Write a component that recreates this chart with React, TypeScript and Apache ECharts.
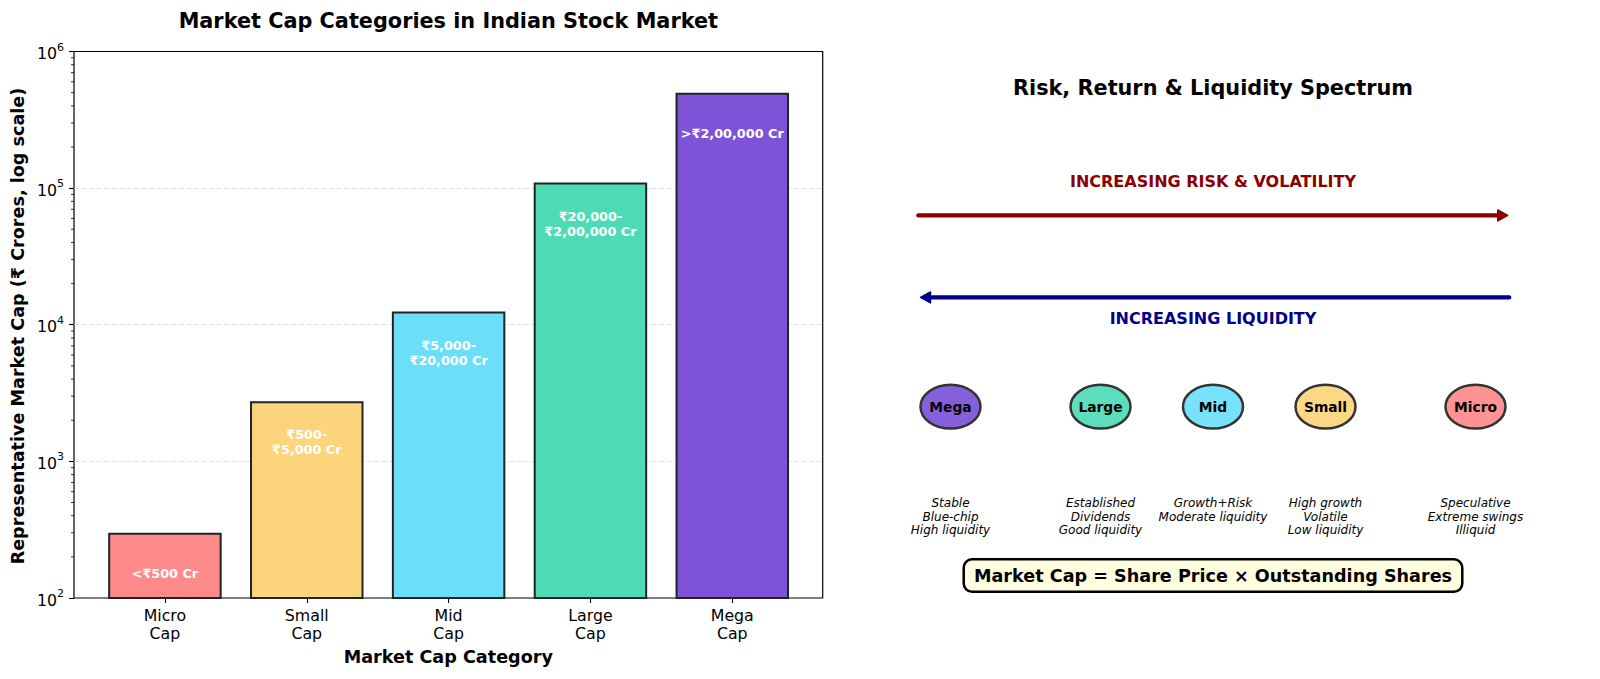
import React, { useEffect, useRef } from 'react';
import * as echarts from 'echarts';

// ---- Left panel: representative market cap per category (log scale) ----
const categories = ['Micro\nCap', 'Small\nCap', 'Mid\nCap', 'Large\nCap', 'Mega\nCap'];
const marketCaps = [300, 2750, 12500, 110000, 500000];
const rangeLabels = ['<₹500 Cr', '₹500-\n₹5,000 Cr', '₹5,000-\n₹20,000 Cr', '₹20,000-\n₹2,00,000 Cr', '>₹2,00,000 Cr'];
const barColors = ['#FF8A8A', '#FBD47C', '#6BDFF9', '#4DDBB5', '#7F53D8'];
const minorDecades = [100, 1000, 10000, 100000];
const minorMultipliers = [2, 3, 4, 5, 6, 7, 8, 9];

// ---- Right panel: risk / return / liquidity spectrum ----
const tierNames = ['Mega', 'Large', 'Mid', 'Small', 'Micro'];
const tierPositions = [1, 3, 4.5, 6, 8];
const tierColors = ['#8660DB', '#5CDDBB', '#78E2FA', '#FCD886', '#FF9393'];
const tierNotes = [
  'Stable\nBlue-chip\nHigh liquidity',
  'Established\nDividends\nGood liquidity',
  'Growth+Risk\nModerate liquidity',
  'High growth\nVolatile\nLow liquidity',
  'Speculative\nExtreme swings\nIlliquid',
];
const tierLevel = 3.5;
const notesLevel = 1.86;

const arrowLabels = ['INCREASING RISK & VOLATILITY', 'INCREASING LIQUIDITY'];
const arrowStarts = [0.57, 8.45];
const arrowEnds = [8.43, 0.6];
const arrowLevels = [7, 5.5];
const arrowLabelLevels = [7.62, 5.12];
const arrowColors = ['#8B0000', '#00008B'];

const formulaText = 'Market Cap = Share Price × Outstanding Shares';
const formulaPosition = [4.5, 0.41];

const FONT = '"DejaVu Sans", "Noto Sans", sans-serif';

function txt(text: string, x: number, y: number, font: string, fill: string, extra: any = {}) {
  return {
    type: 'text',
    x,
    y,
    style: {
      text,
      font,
      fill,
      align: 'center',
      verticalAlign: 'middle',
      textAlign: 'center',
      textVerticalAlign: 'middle',
      ...extra,
    },
  };
}

export default function App() {
  const ref = useRef<HTMLDivElement>(null);

  useEffect(() => {
    if (!ref.current) return;
    const chart = echarts.init(ref.current, undefined, { renderer: 'svg' });

    const minorData: number[][] = [];
    minorDecades.forEach((d) => minorMultipliers.forEach((m) => minorData.push([0, d * m])));

    const option: any = {
      animation: false,
      backgroundColor: '#ffffff',
      textStyle: { fontFamily: FONT },
      grid: [
        { left: 74, right: 777.3, top: 51.5, bottom: 81, show: true, borderColor: '#000', borderWidth: 1.2, backgroundColor: 'transparent' },
        { left: 94, right: 796.8, top: 51.5, bottom: 81 },
        { left: 875.5, right: 49.5, top: 51.5, bottom: 81 },
      ],
      xAxis: [
        { type: 'value', gridIndex: 0, min: 0, max: 1, show: false },
        {
          type: 'category',
          gridIndex: 1,
          data: categories,
          axisLine: { show: false },
          axisTick: { show: true, alignWithLabel: true, length: 5, lineStyle: { color: '#000', width: 1.1 } },
          axisLabel: { color: '#000', fontSize: 15.8, lineHeight: 18, margin: 8, fontFamily: FONT },
          splitLine: { show: false },
        },
        { type: 'value', gridIndex: 2, min: 0, max: 9, show: false },
      ],
      yAxis: [
        {
          type: 'log',
          logBase: 10,
          gridIndex: 0,
          min: 100,
          max: 1000000,
          axisLine: { show: false },
          axisTick: { show: true, length: 5, lineStyle: { color: '#000', width: 1.1 } },
          axisLabel: {
            color: '#000',
            margin: 10,
            fontFamily: FONT,
            formatter: (v: number) => '{b|10}{s|' + Math.round(Math.log10(v)) + '}',
            rich: {
              b: { fontSize: 15.8, lineHeight: 20, verticalAlign: 'bottom', color: '#000', fontFamily: FONT },
              s: { fontSize: 11, lineHeight: 11, verticalAlign: 'top', color: '#000', fontFamily: FONT },
            },
          },
          splitLine: {
            show: true,
            showMinLine: false,
            showMaxLine: false,
            lineStyle: { color: '#dedede', width: 0.9, type: [5, 2.5] },
          },
        },
        { type: 'log', logBase: 10, gridIndex: 1, min: 100, max: 1000000, show: false },
        { type: 'value', gridIndex: 2, min: 0, max: 10, show: false },
      ],
      series: [
        {
          // minor log ticks on the left axis
          type: 'custom',
          xAxisIndex: 0,
          yAxisIndex: 0,
          clip: false,
          silent: true,
          data: minorData,
          renderItem: (params: any, api: any) => {
            const p = api.coord([0, api.value(1)]);
            return {
              type: 'line',
              shape: { x1: p[0] - 3, y1: p[1], x2: p[0], y2: p[1] },
              style: { stroke: '#000', lineWidth: 0.8 },
            };
          },
        },
        {
          type: 'bar',
          xAxisIndex: 1,
          yAxisIndex: 1,
          barWidth: '80%',
          data: marketCaps.map((v, i) => ({
            value: v,
            itemStyle: { color: barColors[i], borderColor: '#222', borderWidth: 2 },
          })),
          z: 3,
        },
        {
          // range labels inside each bar, at half of the bar's value
          type: 'custom',
          xAxisIndex: 1,
          yAxisIndex: 1,
          clip: false,
          silent: true,
          z: 5,
          data: marketCaps.map((v, i) => [i, v * 0.5]),
          renderItem: (params: any, api: any) => {
            const p = api.coord([api.value(0), api.value(1)]);
            return txt(rangeLabels[params.dataIndex], p[0], p[1], `bold 12.8px ${FONT}`, '#ffffff', { lineHeight: 15 });
          },
        },
        {
          // spectrum arrows and their captions
          type: 'custom',
          xAxisIndex: 2,
          yAxisIndex: 2,
          clip: false,
          silent: true,
          data: arrowLabels.map((_, i) => [arrowStarts[i], arrowEnds[i], arrowLevels[i], arrowLabelLevels[i]]),
          renderItem: (params: any, api: any) => {
            const i = params.dataIndex;
            const c = arrowColors[i];
            const p1 = api.coord([api.value(0), api.value(2)]);
            const p2 = api.coord([api.value(1), api.value(2)]);
            const lbl = api.coord([4.5, api.value(3)]);
            const dir = Math.sign(p2[0] - p1[0]);
            const headLen = 10;
            const headHalf = 5.5;
            return {
              type: 'group',
              children: [
                {
                  type: 'line',
                  shape: { x1: p1[0], y1: p1[1], x2: p2[0] - dir * headLen * 0.6, y2: p2[1] },
                  style: { stroke: c, lineWidth: 4.2, lineCap: 'round' },
                },
                {
                  type: 'polygon',
                  shape: {
                    points: [
                      [p2[0], p2[1]],
                      [p2[0] - dir * headLen, p2[1] - headHalf],
                      [p2[0] - dir * headLen, p2[1] + headHalf],
                    ],
                  },
                  style: { fill: c, stroke: c, lineWidth: 1.5, lineJoin: 'round' },
                },
                txt(arrowLabels[i], lbl[0], lbl[1], `bold 16px ${FONT}`, c),
              ],
            };
          },
        },
        {
          // category tiers along the spectrum
          type: 'custom',
          xAxisIndex: 2,
          yAxisIndex: 2,
          clip: false,
          silent: true,
          data: tierPositions.map((x) => [x, tierLevel]),
          renderItem: (params: any, api: any) => {
            const i = params.dataIndex;
            const c = api.coord([api.value(0), api.value(1)]);
            const e = api.coord([api.value(0) + 0.4, api.value(1) + 0.4]);
            const rx = Math.abs(e[0] - c[0]);
            const ry = Math.abs(e[1] - c[1]);
            const n = api.coord([api.value(0), notesLevel]);
            return {
              type: 'group',
              children: [
                {
                  type: 'ellipse',
                  shape: { cx: c[0], cy: c[1], rx, ry },
                  style: { fill: tierColors[i], stroke: '#333333', lineWidth: 2.5 },
                },
                txt(tierNames[i], c[0], c[1], `bold 13.8px ${FONT}`, '#000'),
                txt(tierNotes[i], n[0], n[1], `italic 12px ${FONT}`, '#000', {
                  verticalAlign: 'top',
                  textVerticalAlign: 'top',
                  lineHeight: 13.6,
                }),
              ],
            };
          },
        },
        {
          // formula box
          type: 'custom',
          xAxisIndex: 2,
          yAxisIndex: 2,
          clip: false,
          silent: true,
          data: [formulaPosition],
          renderItem: (params: any, api: any) => {
            const p = api.coord([api.value(0), api.value(1)]);
            return txt(formulaText, p[0], p[1], `bold 17.6px ${FONT}`, '#000', {
              backgroundColor: '#FFFFE0',
              borderColor: '#000',
              borderWidth: 2.5,
              borderRadius: 7,
              padding: [6, 9, 6, 9],
            });
          },
        },
      ],
      graphic: [
        txt('Market Cap Categories in Indian Stock Market', 448.3, 20.5, `bold 20.8px ${FONT}`, '#000'),
        {
          ...txt('Representative Market Cap (₹ Crores, log scale)', 18, 326, `bold 17.6px ${FONT}`, '#000'),
          rotation: Math.PI / 2,
        },
        txt('Market Cap Category', 448.3, 657, `bold 17.6px ${FONT}`, '#000'),
        txt('Risk, Return & Liquidity Spectrum', 1213, 88, `bold 20.8px ${FONT}`, '#000'),
      ],
    };

    chart.setOption(option);
    return () => chart.dispose();
  }, []);

  return (
    <div
      ref={ref}
      style={{ position: 'fixed', left: 0, top: 0, width: 1600, height: 679, background: '#fff' }}
    />
  );
}
